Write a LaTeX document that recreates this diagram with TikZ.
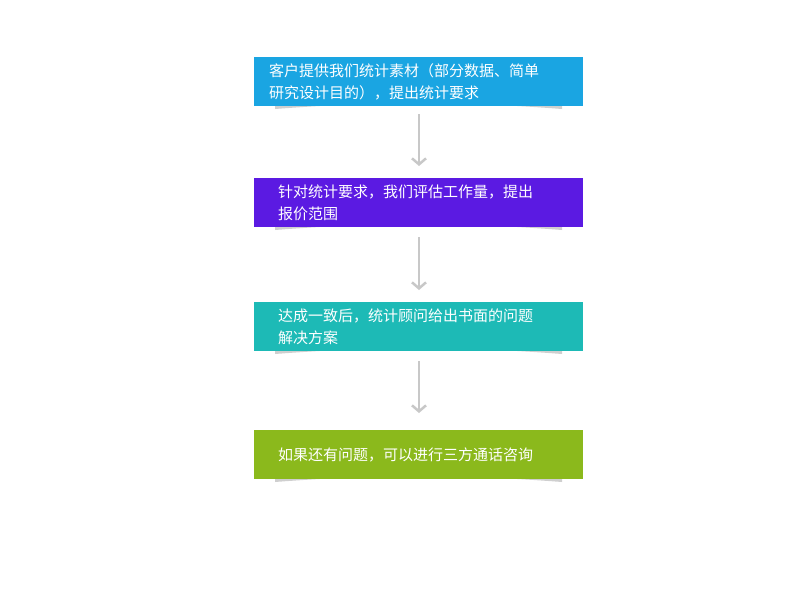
\documentclass[tikz,border=0pt]{standalone}
\usepackage{fontspec}
\newfontfamily\cjk{Noto Sans CJK SC}
\usetikzlibrary{arrows.meta}
\definecolor{c1}{HTML}{1AA5E2}
\definecolor{c2}{HTML}{5B1AE2}
\definecolor{c3}{HTML}{1DBAB6}
\definecolor{c4}{HTML}{8BB91C}
\definecolor{sh}{HTML}{CFCFCF}
\definecolor{ar}{HTML}{C8C8C8}
\tikzset{
 stepbox/.style={minimum width=329pt, minimum height=49pt, inner sep=0pt, anchor=north west},
 txt/.style={anchor=west, text=white, font=\cjk\fontsize{15}{22}\selectfont, align=left, inner sep=0pt},
 flow/.style={draw=ar, line width=2pt, -{Straight Barb[length=6pt,width=14pt,line width=2.5pt]}}
}
\newcommand{\shadowat}[1]{\fill[sh] (275,#1) -- (275,#1+9) .. controls (380,#1+1) and (457,#1+1) .. (562,#1+9) -- (562,#1) -- cycle;}
\begin{document}
\begin{tikzpicture}[x=1pt,y=-1pt]
\useasboundingbox (0,0) rectangle (800,600);
\shadowat{100}\shadowat{221}\shadowat{345}\shadowat{473}
\node[stepbox, fill=c1] (b1) at (254,57) {};
\node[stepbox, fill=c2] (b2) at (254,178) {};
\node[stepbox, fill=c3] (b3) at (254,302) {};
\node[stepbox, fill=c4] (b4) at (254,430) {};
\node[txt] (t1) at (269,82) {客户提供我们统计素材（部分数据、简单\\研究设计目的），提出统计要求};
\node[txt] (t2) at (278,203) {针对统计要求，我们评估工作量，提出\\报价范围};
\node[txt] (t3) at (278,327) {达成一致后，统计顾问给出书面的问题\\解决方案};
\node[txt] (t4) at (278,455) {如果还有问题，可以进行三方通话咨询};
\coordinate (a1s) at (419,114); \coordinate (a1e) at (419,166);
\coordinate (a2s) at (419,237); \coordinate (a2e) at (419,290);
\coordinate (a3s) at (419,361); \coordinate (a3e) at (419,413);
\draw[flow] (a1s) -- (a1e);
\draw[flow] (a2s) -- (a2e);
\draw[flow] (a3s) -- (a3e);
\end{tikzpicture}
\end{document}
